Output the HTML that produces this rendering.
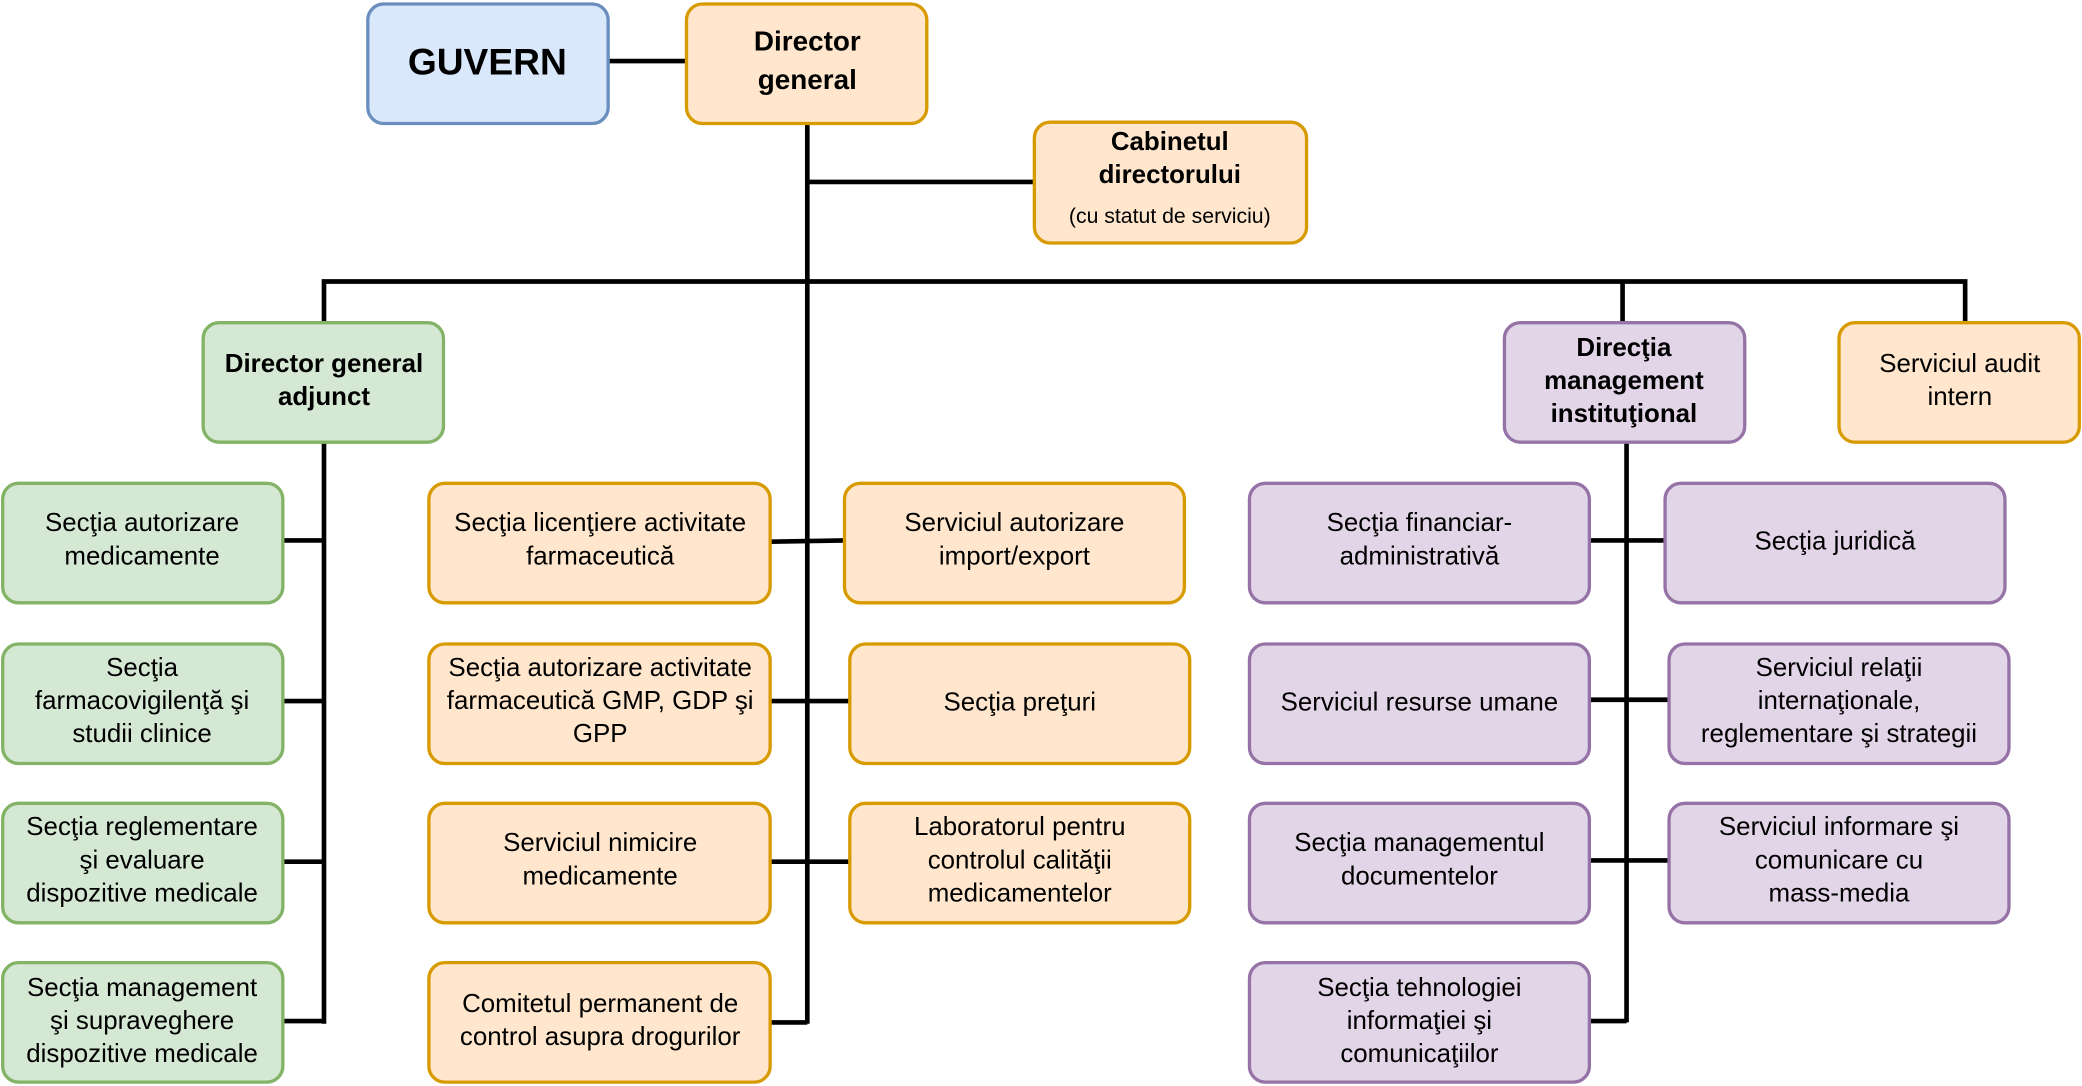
<!DOCTYPE html>
<html><head><meta charset="utf-8"><style>
html,body{margin:0;padding:0;background:#fff}
svg{display:block}
</style></head><body>
<svg width="2082" height="1086" viewBox="0 0 1568 817.9" xmlns="http://www.w3.org/2000/svg" font-family="'Liberation Sans', Arial, sans-serif">
<g stroke="#000" stroke-width="3.5" fill="none">
<line x1="458" y1="46" x2="517" y2="46"/>
<line x1="608" y1="93" x2="608" y2="771"/>
<line x1="608" y1="137" x2="779" y2="137"/>
<polyline points="244,243 244,212 1480,212 1480,243"/>
<line x1="1222" y1="212" x2="1222" y2="243"/>
<line x1="244" y1="333" x2="244" y2="771"/>
<line x1="213" y1="407" x2="244" y2="407"/>
<line x1="213" y1="528" x2="244" y2="528"/>
<line x1="213" y1="649" x2="244" y2="649"/>
<line x1="213" y1="769" x2="244" y2="769"/>
<line x1="580" y1="408" x2="636" y2="407"/>
<line x1="580" y1="528" x2="640" y2="528"/>
<line x1="580" y1="649" x2="640" y2="649"/>
<line x1="580" y1="770" x2="608" y2="770"/>
<line x1="1225" y1="333" x2="1225" y2="770"/>
<line x1="1197" y1="407" x2="1254" y2="407"/>
<line x1="1197" y1="527" x2="1257" y2="527"/>
<line x1="1197" y1="648" x2="1257" y2="648"/>
<line x1="1197" y1="769" x2="1225" y2="769"/>
</g>
<g stroke-width="2.5">
<rect x="277" y="3" width="181" height="90" rx="12" fill="#dae8fc" stroke="#6c8ebf"/>
<rect x="517" y="3" width="181" height="90" rx="12" fill="#ffe6cc" stroke="#d79b00"/>
<rect x="779" y="92" width="205" height="91" rx="12" fill="#ffe6cc" stroke="#d79b00"/>
<rect x="153" y="243" width="181" height="90" rx="12" fill="#d5e8d4" stroke="#82b366"/>
<rect x="1133" y="243" width="181" height="90" rx="12" fill="#e1d5e7" stroke="#9673a6"/>
<rect x="1385" y="243" width="181" height="90" rx="12" fill="#ffe6cc" stroke="#d79b00"/>
<g fill="#d5e8d4" stroke="#82b366">
<rect x="2" y="364" width="211" height="90" rx="12"/>
<rect x="2" y="485" width="211" height="90" rx="12"/>
<rect x="2" y="605" width="211" height="90" rx="12"/>
<rect x="2" y="725" width="211" height="90" rx="12"/>
</g>
<g fill="#ffe6cc" stroke="#d79b00">
<rect x="323" y="364" width="257" height="90" rx="12"/>
<rect x="323" y="485" width="257" height="90" rx="12"/>
<rect x="323" y="605" width="257" height="90" rx="12"/>
<rect x="323" y="725" width="257" height="90" rx="12"/>
<rect x="636" y="364" width="256" height="90" rx="12"/>
<rect x="640" y="485" width="256" height="90" rx="12"/>
<rect x="640" y="605" width="256" height="90" rx="12"/>
</g>
<g fill="#e1d5e7" stroke="#9673a6">
<rect x="941" y="364" width="256" height="90" rx="12"/>
<rect x="941" y="485" width="256" height="90" rx="12"/>
<rect x="941" y="605" width="256" height="90" rx="12"/>
<rect x="941" y="725" width="256" height="90" rx="12"/>
<rect x="1254" y="364" width="256" height="90" rx="12"/>
<rect x="1257" y="485" width="256" height="90" rx="12"/>
<rect x="1257" y="605" width="256" height="90" rx="12"/>
</g>
</g>
<g text-anchor="middle" font-size="19.5" fill="#000">
<text x="367" y="56" font-size="28" font-weight="bold">GUVERN</text>
<text x="608" y="38" font-size="21" font-weight="bold">Director</text>
<text x="608" y="67" font-size="21" font-weight="bold">general</text>
<text x="881" y="113" font-weight="bold">Cabinetul</text>
<text x="881" y="138" font-weight="bold">directorului</text>
<text x="881" y="168" font-size="16">(cu statut de serviciu)</text>
<text x="244" y="280" font-weight="bold">Director general</text>
<text x="244" y="305" font-weight="bold">adjunct</text>
<text x="1223" y="268" font-weight="bold">Direcţia</text>
<text x="1223" y="293" font-weight="bold">management</text>
<text x="1223" y="318" font-weight="bold">instituţional</text>
<text x="1476" y="280">Serviciul audit</text>
<text x="1476" y="305">intern</text>

<text x="107" y="400">Secţia autorizare</text>
<text x="107" y="425">medicamente</text>
<text x="107" y="509">Secţia</text>
<text x="107" y="534">farmacovigilenţă şi</text>
<text x="107" y="559">studii clinice</text>
<text x="107" y="629">Secţia reglementare</text>
<text x="107" y="654">şi evaluare</text>
<text x="107" y="679">dispozitive medicale</text>
<text x="107" y="750">Secţia management</text>
<text x="107" y="775">şi supraveghere</text>
<text x="107" y="800">dispozitive medicale</text>

<text x="452" y="400">Secţia licenţiere activitate</text>
<text x="452" y="425">farmaceutică</text>
<text x="452" y="509">Secţia autorizare activitate</text>
<text x="452" y="534">farmaceutică GMP, GDP şi</text>
<text x="452" y="559">GPP</text>
<text x="452" y="641">Serviciul nimicire</text>
<text x="452" y="666">medicamente</text>
<text x="452" y="762">Comitetul permanent de</text>
<text x="452" y="787">control asupra drogurilor</text>

<text x="764" y="400">Serviciul autorizare</text>
<text x="764" y="425">import/export</text>
<text x="768" y="535">Secţia preţuri</text>
<text x="768" y="629">Laboratorul pentru</text>
<text x="768" y="654">controlul calităţii</text>
<text x="768" y="679">medicamentelor</text>

<text x="1069" y="400">Secţia financiar-</text>
<text x="1069" y="425">administrativă</text>
<text x="1069" y="535">Serviciul resurse umane</text>
<text x="1069" y="641">Secţia managementul</text>
<text x="1069" y="666">documentelor</text>
<text x="1069" y="750">Secţia tehnologiei</text>
<text x="1069" y="775">informaţiei şi</text>
<text x="1069" y="800">comunicaţiilor</text>

<text x="1382" y="414">Secţia juridică</text>
<text x="1385" y="509">Serviciul relaţii</text>
<text x="1385" y="534">internaţionale,</text>
<text x="1385" y="559">reglementare şi strategii</text>
<text x="1385" y="629">Serviciul informare şi</text>
<text x="1385" y="654">comunicare cu</text>
<text x="1385" y="679">mass-media</text>
</g>
</svg>
</body></html>
